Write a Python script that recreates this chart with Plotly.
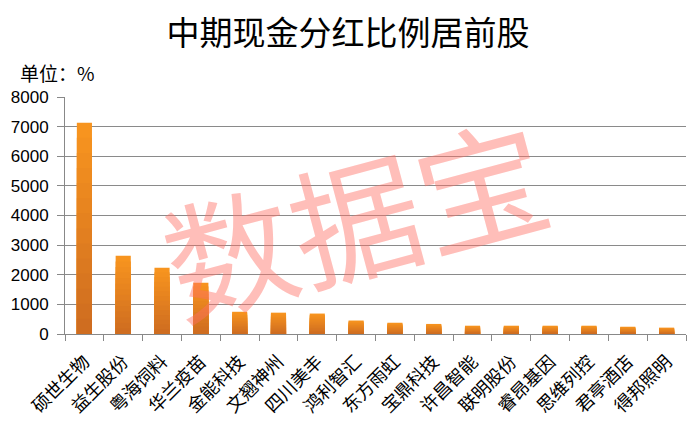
import plotly.graph_objects as go

categories = ["硕世生物", "益生股份", "粤海饲料", "华兰疫苗", "金能科技", "文翘神州", "四川美丰", "鸿利智汇",
              "东方雨虹", "宝鼎科技", "许昌智能", "联明股份", "睿昂基因", "思维列控", "君亭酒店", "得邦照明"]
values = [7130, 2640, 2240, 1730, 750, 720, 690, 455, 380, 340, 280, 280, 280, 280, 245, 215]
y_ticks = [0, 1000, 2000, 3000, 4000, 5000, 6000, 7000, 8000]

fig = go.Figure()

# gradient bars via overlaid layers (top orange -> bottom darker)
N = 14
top = (247, 148, 31)
bot = (204, 106, 32)
for k in range(N, 0, -1):
    f = k / N
    c = tuple(round(bot[i] + (top[i] - bot[i]) * f) for i in range(3))
    fig.add_trace(go.Bar(
        x=categories, y=[v * f for v in values],
        marker=dict(color=f"rgb{c}", line=dict(width=0)),
        width=0.39, hoverinfo="skip", showlegend=False,
    ))

# page body has an 8px default margin, so the figure is sized/placed to compensate
fig.update_layout(
    barmode="overlay",
    width=689, height=423,
    margin=dict(l=57, r=11, t=89, b=97),
    paper_bgcolor="white", plot_bgcolor="white",
    title=dict(text="中期现金分红比例居前股", x=0.4935, xanchor="center", y=0.941, yanchor="middle",
               font=dict(family="Noto Sans CJK SC", size=33, color="black")),
    showlegend=False,
)
fig.update_xaxes(
    type="category", tickangle=-45, tickson="boundaries", ticks="outside", ticklen=6,
    tickcolor="#888", showline=True, linecolor="#888", linewidth=1,
    tickfont=dict(family="Noto Sans CJK SC", size=18, color="black"),
    ticklabelstandoff=9, showgrid=False, automargin=False,
)
fig.update_yaxes(
    range=[0, 8000], tickvals=y_ticks, ticks="outside", ticklen=7, tickcolor="#888",
    showline=True, linecolor="#888", linewidth=1,
    showgrid=True, gridcolor="#8a8a8a", gridwidth=1, zeroline=False,
    tickfont=dict(family="Liberation Sans", size=17, color="black"),
    ticklabelstandoff=5, automargin=False,
)
fig.add_annotation(text="单位：%", xref="paper", yref="paper", x=(18 - 65) / 621, y=1.105,
                   xanchor="left", yanchor="middle", showarrow=False,
                   font=dict(family="Noto Sans CJK SC", size=19, color="black"))
fig.add_annotation(text="数据宝", xref="paper", yref="paper", x=0.465, y=0.508,
                   xanchor="center", yanchor="middle", showarrow=False, textangle=-15,
                   font=dict(family="Noto Sans CJK SC", size=130, color="rgba(255,110,100,0.45)"))

fig.write_html("out.html")
